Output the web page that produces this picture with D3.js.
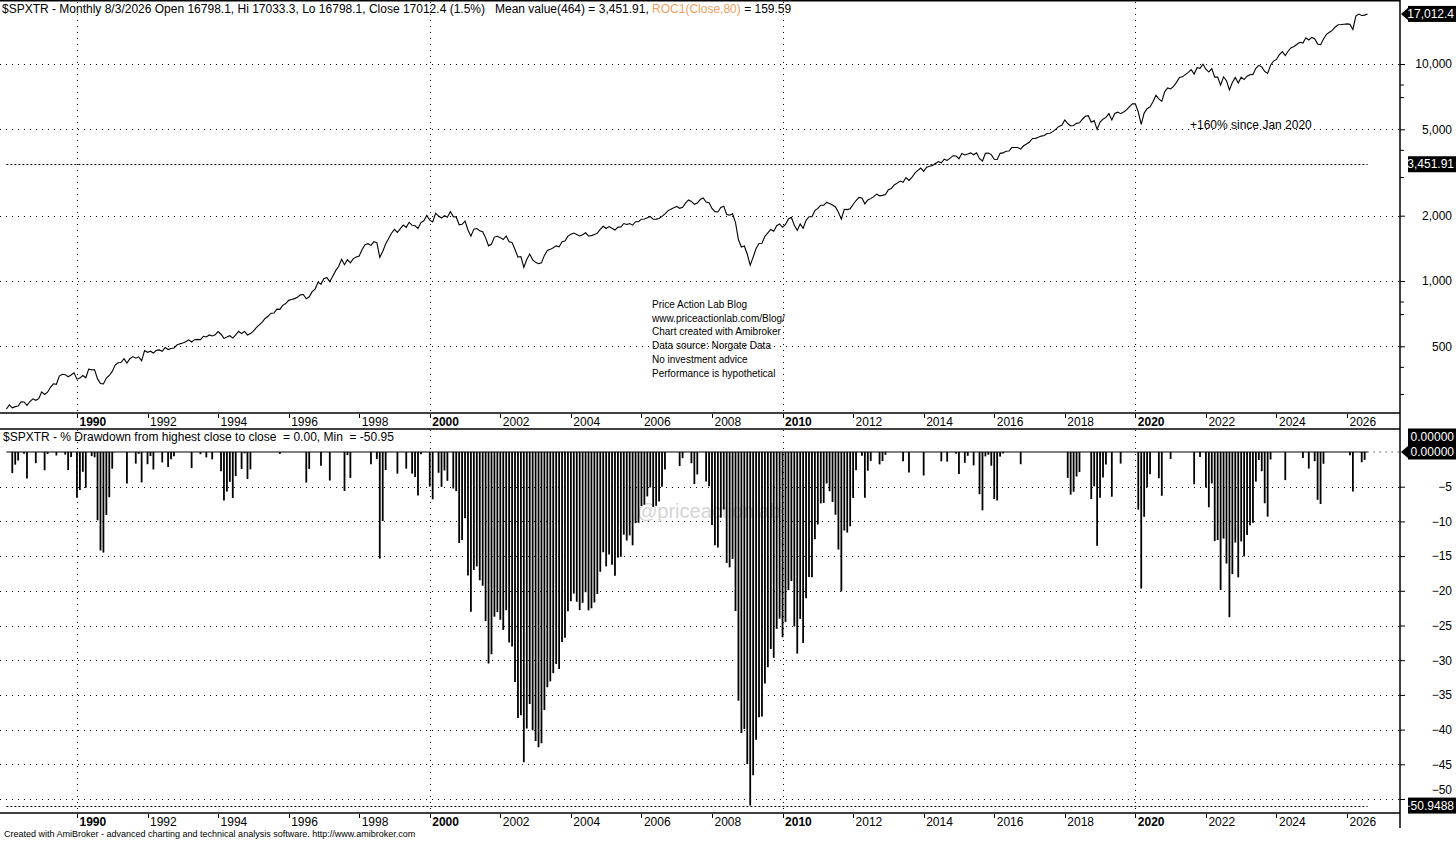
<!DOCTYPE html>
<html>
<head>
<meta charset="utf-8">
<script src="https://cdn.jsdelivr.net/npm/d3@7"></script>
<style>
  body { margin: 0; background: #fff; }
  text { font-family: "Liberation Sans", Arial, sans-serif; }
</style>
</head>
<body>
<div id="chart"></div>
<script>
// monthly closes of $SPXTR, one row per year, Jan 1988 .. Aug 2026
var startYear = 1988;

var closes80s = [
  [257.1, 268.6, 260.4, 263.7, 265.3, 277.6, 276.9, 267.0, 278.4, 286.5, 281.9, 286.9], // 1988
  [308.2, 300.1, 307.3, 323.6, 335.9, 334.2, 364.8, 371.5, 370.1, 361.8, 368.8, 377.8]  // 1989
];
var closes90s = [
  [352.9, 357.1, 367.0, 358.3, 392.5, 390.2, 389.5, 353.9, 336.8, 335.6, 356.9, 366.9], // 1990
  [383.1, 409.9, 420.1, 421.3, 438.6, 418.7, 438.5, 448.3, 440.8, 447.1, 428.6, 477.6],
  [469.2, 474.8, 465.6, 479.7, 481.3, 474.1, 493.9, 483.2, 488.7, 490.9, 507.0, 513.3],
  [518.1, 524.7, 535.8, 523.4, 536.5, 538.2, 536.5, 556.3, 552.0, 564.0, 558.0, 564.9],
  [584.6, 568.4, 543.7, 551.3, 559.5, 545.8, 564.3, 586.9, 572.5, 585.8, 564.0, 572.2],
  [587.4, 609.9, 627.9, 646.8, 671.7, 687.5, 710.8, 712.1, 742.2, 740.1, 772.0, 787.2],
  [814.3, 821.5, 829.5, 842.1, 863.0, 866.5, 828.3, 845.4, 892.8, 917.8, 986.9, 967.4],
  [1028.2, 1035.8, 993.2, 1052.7, 1116.0, 1166.2, 1259.1, 1188.5, 1253.5, 1212.1, 1267.9, 1289.7],
  [1304.5, 1398.3, 1470.1, 1485.3, 1459.3, 1518.8, 1503.1, 1285.6, 1367.7, 1479.4, 1568.9, 1659.5],
  [1729.2, 1675.1, 1741.7, 1809.6, 1766.2, 1864.1, 1806.1, 1796.7, 1747.1, 1858.1, 1895.4, 2007.0]
];
var closes00s = [
  [1906.7, 1870.2, 2053.1, 1991.7, 1950.0, 1998.6, 1967.8, 2089.4, 1979.5, 1971.6, 1815.5, 1824.6], // 2000
  [1889.9, 1717.3, 1608.8, 1734.3, 1745.0, 1703.2, 1686.6, 1580.2, 1452.6, 1480.5, 1593.5, 1607.3],
  [1584.4, 1553.6, 1613.0, 1516.0, 1504.2, 1397.1, 1288.5, 1296.5, 1155.5, 1257.1, 1330.6, 1252.0],
  [1219.5, 1200.5, 1212.3, 1312.4, 1381.2, 1398.9, 1423.7, 1451.2, 1436.0, 1517.0, 1530.1, 1610.1],
  [1640.4, 1663.0, 1638.4, 1613.3, 1635.4, 1667.3, 1612.7, 1618.8, 1636.5, 1662.0, 1728.8, 1787.6],
  [1745.1, 1781.0, 1749.6, 1717.1, 1771.4, 1773.9, 1840.5, 1822.8, 1838.3, 1808.5, 1875.1, 1876.2],
  [1927.0, 1931.0, 1955.6, 1982.6, 1924.3, 1927.5, 1940.4, 1984.8, 2036.9, 2104.4, 2142.4, 2172.8],
  [2207.0, 2162.3, 2187.4, 2285.8, 2364.0, 2325.7, 2254.9, 2287.6, 2373.3, 2412.4, 2309.8, 2293.6],
  [2158.3, 2088.0, 2080.3, 2184.1, 2212.5, 2026.9, 2011.4, 2040.6, 1859.5, 1547.9, 1435.2, 1449.7],
  [1328.2, 1183.3, 1288.4, 1412.2, 1490.2, 1493.4, 1607.4, 1664.6, 1727.6, 1696.8, 1797.7, 1833.2]
];
var closes10s = [
  [1768.4, 1821.9, 1932.2, 1964.0, 1806.0, 1711.5, 1832.3, 1748.2, 1904.4, 1977.8, 1976.6, 2109.1], // 2010
  [2160.7, 2233.7, 2235.4, 2303.1, 2276.1, 2238.5, 2194.3, 2073.3, 1927.9, 2139.4, 2132.3, 2154.3],
  [2252.8, 2349.0, 2427.5, 2414.2, 2267.5, 2362.0, 2396.6, 2448.9, 2513.3, 2468.5, 2480.4, 2503.0],
  [2634.1, 2668.1, 2769.3, 2824.5, 2888.5, 2850.3, 2996.9, 2908.3, 3000.4, 3139.8, 3233.8, 3316.0],
  [3203.5, 3347.4, 3376.4, 3403.0, 3480.5, 3552.9, 3505.4, 3643.5, 3593.0, 3682.5, 3779.3, 3769.8],
  [3659.4, 3867.4, 3807.0, 3846.3, 3893.8, 3818.8, 3901.2, 3663.8, 3573.2, 3876.6, 3885.6, 3824.2],
  [3637.0, 3628.7, 3875.4, 3893.1, 3960.1, 3971.0, 4120.1, 4122.6, 4125.1, 4052.4, 4198.7, 4282.9],
  [4367.0, 4537.0, 4543.0, 4592.0, 4653.1, 4683.2, 4782.0, 4792.5, 4893.3, 5010.2, 5159.6, 5218.9],
  [5521.7, 5315.9, 5182.2, 5205.3, 5326.9, 5361.9, 5564.7, 5743.0, 5777.8, 5386.1, 5491.6, 4996.2],
  [5397.1, 5565.6, 5673.9, 5905.5, 5525.0, 5914.4, 6000.7, 5900.6, 6010.9, 6142.5, 6360.8, 6553.6]
];
var closes20s = [
  [6551.0, 6008.9, 5264.8, 5941.4, 6219.5, 6343.2, 6702.5, 7182.6, 6911.0, 6729.6, 7464.2, 7752.5], // 2020
  [7675.2, 7884.6, 8229.1, 8670.5, 8728.2, 8932.4, 9146.1, 9422.1, 8984.7, 9617.0, 9547.8, 9975.6],
  [9464.6, 9181.0, 9522.9, 8697.7, 8710.6, 7991.0, 8731.4, 8372.7, 7601.5, 8220.2, 8674.3, 8174.3],
  [8690.6, 8475.0, 8783.7, 8924.0, 8958.2, 9550.5, 9860.8, 9699.2, 9238.6, 9047.3, 9867.4, 10317.2],
  [10493.3, 11048.7, 11404.6, 10942.6, 11481.2, 11892.9, 12041.4, 12330.5, 12594.0, 12483.5, 13213.9, 12898.4],
  [13261.4, 13086.9, 12347.8, 12267.0, 13036.0, 13697.4, 14009.4, 14291.9, 14813.5, 15166.1, 15202.0, 15255.0],
  [15300.0, 15230.0, 14430.0, 16620.0, 16990.0, 16740.0, 16798.1, 17012.4] // 2026
];

var yearTicks = [1990, 1992, 1994, 1996, 1998, 2000, 2002, 2004, 2006, 2008, 2010,
                 2012, 2014, 2016, 2018, 2020, 2022, 2024, 2026];
var priceTicks = [500, 1000, 2000, 5000, 10000];
var priceMinorTicks = [300, 400, 700, 800, 3000, 4000, 7000, 8000];
var ddTicks = [-5, -10, -15, -20, -25, -30, -35, -40, -45, -50];

var meanValue = 3451.91;
var minDrawdown = -50.9488;
var lastClose = 17012.4;

var headerMain = "$SPXTR - Monthly 8/3/2026 Open 16798.1, Hi 17033.3, Lo 16798.1, Close 17012.4 (1.5%)   Mean value(464) = 3,451.91, ";
var headerRoc = "ROC1(Close,80)";
var headerRocValue = " = 159.59";
var ddTitle = "$SPXTR - % Drawdown from highest close to close  = 0.00, Min  = -50.95";
var noteLines = ["Price Action Lab Blog", "www.priceactionlab.com/Blog/", "Chart created with Amibroker",
                 "Data source: Norgate Data", "No investment advice", "Performance is hypothetical"];
var footer = "Created with AmiBroker - advanced charting and technical analysis software. http://www.amibroker.com";

var closes = [].concat(closes80s, closes90s, closes00s, closes10s, closes20s).flat();

// % drawdown from the highest close so far
var peak = 0;
var drawdown = closes.map(function (c) {
    peak = Math.max(peak, c);
    return (c / peak - 1) * 100;
});

var width = 1456, height = 841, axisX = 1400;

var svg = d3.select("#chart").append("svg")
    .attr("width", width)
    .attr("height", height)
    .style("display", "block");

svg.append("rect").attr("width", width).attr("height", height).attr("fill", "#fff");

var x = d3.scaleLinear().domain([0, closes.length - 1]).range([6.4, 1367.6]);
var yPrice = d3.scaleLog().domain([1000, 10000]).range([281, 64]);
var yDD = d3.scaleLinear().domain([0, -50]).range([452, 799]);

function monthIndex(year) { return (year - startYear) * 12; }

var grid = svg.append("g").attr("stroke", "#000").attr("stroke-width", 1).attr("stroke-dasharray", "1,5");

// decade gridlines
[1990, 2000, 2010, 2020].forEach(function (yr) {
    var gx = Math.round(x(monthIndex(yr))) + 0.5;
    grid.append("line").attr("x1", gx).attr("x2", gx).attr("y1", 2).attr("y2", 413);
    grid.append("line").attr("x1", gx).attr("x2", gx).attr("y1", 430).attr("y2", 813);
});

// horizontal gridlines
priceTicks.forEach(function (v) {
    var gy = Math.round(yPrice(v)) + 0.5;
    grid.append("line").attr("x1", 0).attr("x2", axisX).attr("y1", gy).attr("y2", gy);
});
ddTicks.forEach(function (v) {
    var gy = Math.round(yDD(v)) + 0.5;
    grid.append("line").attr("x1", 0).attr("x2", axisX).attr("y1", gy).attr("y2", gy);
});
grid.append("line").attr("x1", x(closes.length - 1)).attr("x2", axisX)
    .attr("y1", yDD(0)).attr("y2", yDD(0));

// notes in the price pane
var notes = svg.append("g").attr("font-size", "10px").attr("fill", "#000");
notes.selectAll("text")
    .data(noteLines)
    .join("text")
    .attr("x", 652)
    .attr("y", function (d, i) { return 308 + i * 13.7; })
    .text(function (d) { return d; });

svg.append("text")
    .attr("x", 1190).attr("y", 129)
    .attr("font-size", "12px")
    .text("+160% since Jan 2020");

// mean value line
svg.append("line")
    .attr("x1", x(0)).attr("x2", x(closes.length - 1))
    .attr("y1", Math.round(yPrice(meanValue)) + 0.5).attr("y2", Math.round(yPrice(meanValue)) + 0.5)
    .attr("stroke", "#000").attr("stroke-dasharray", "2,2");

// price line
var line = d3.line()
    .x(function (d, i) { return x(i); })
    .y(function (d) { return yPrice(d); });

svg.append("path")
    .datum(closes)
    .attr("d", line)
    .attr("fill", "none")
    .attr("stroke", "#000")
    .attr("stroke-width", 1.1);

// watermark behind drawdown bars
svg.append("text")
    .attr("x", 637).attr("y", 518)
    .attr("font-size", "20px")
    .attr("fill", "#d4d4d4")
    .text("@priceactionlab");

// drawdown bars
svg.append("g")
    .selectAll("line")
    .data(drawdown)
    .join("line")
    .attr("x1", function (d, i) { return x(i); })
    .attr("x2", function (d, i) { return x(i); })
    .attr("y1", yDD(0))
    .attr("y2", function (d) { return yDD(d); })
    .attr("stroke", "#000")
    .attr("stroke-width", 1.8);

svg.append("line")
    .attr("x1", x(0)).attr("x2", x(closes.length - 1))
    .attr("y1", yDD(0)).attr("y2", yDD(0))
    .attr("stroke", "#000").attr("stroke-width", 1.2);

svg.append("line")
    .attr("x1", x(0)).attr("x2", x(closes.length - 1))
    .attr("y1", Math.round(yDD(minDrawdown)) + 0.5).attr("y2", Math.round(yDD(minDrawdown)) + 0.5)
    .attr("stroke", "#000").attr("stroke-dasharray", "2,2");

// frame lines
var frame = svg.append("g").attr("stroke", "#000").attr("stroke-width", 1.5);
frame.append("line").attr("x1", 0).attr("x2", axisX).attr("y1", 0.75).attr("y2", 0.75);
[413, 429, 813].forEach(function (ly) {
    frame.append("line").attr("x1", 0).attr("x2", axisX).attr("y1", ly).attr("y2", ly);
});
frame.append("line").attr("x1", axisX).attr("x2", axisX).attr("y1", 0).attr("y2", 828);

// year axes
function yearAxis(top) {
    var g = svg.append("g");
    g.selectAll("line")
        .data(yearTicks)
        .join("line")
        .attr("x1", function (d) { return Math.round(x(monthIndex(d))) + 0.5; })
        .attr("x2", function (d) { return Math.round(x(monthIndex(d))) + 0.5; })
        .attr("y1", top + 1).attr("y2", top + 5)
        .attr("stroke", "#000");
    g.selectAll("text")
        .data(yearTicks)
        .join("text")
        .attr("x", function (d) { return x(monthIndex(d)) + 2.5; })
        .attr("y", top + 12.5)
        .attr("font-size", "12px")
        .attr("font-weight", function (d) { return d % 10 === 0 ? "bold" : "normal"; })
        .text(function (d) { return d; });
}
yearAxis(413);
yearAxis(813);

// right value axes
var priceAxis = svg.append("g")
    .attr("transform", "translate(" + axisX + ",0)")
    .call(d3.axisRight(yPrice).tickValues(priceTicks).tickFormat(d3.format(",")).tickSize(5));
priceAxis.select(".domain").remove();
priceAxis.selectAll("text").attr("x", 52).attr("text-anchor", "end")
    .attr("font-size", "12px").attr("font-family", null);

svg.append("g")
    .selectAll("line")
    .data(priceMinorTicks)
    .join("line")
    .attr("x1", axisX).attr("x2", axisX + 4)
    .attr("y1", function (d) { return yPrice(d); })
    .attr("y2", function (d) { return yPrice(d); })
    .attr("stroke", "#000");

var ddAxis = svg.append("g")
    .attr("transform", "translate(" + axisX + ",0)")
    .call(d3.axisRight(yDD).tickValues(ddTicks).tickFormat(d3.format("d")).tickSize(5));
ddAxis.select(".domain").remove();
ddAxis.selectAll("text").attr("x", 52).attr("text-anchor", "end")
    .attr("font-size", "12px").attr("font-family", null);
// the -50 label sits just above the min tag, as in AmiBroker
ddAxis.selectAll(".tick").filter(function (d) { return d === -50; })
    .select("text").attr("y", -9);

// value tags
function valueTag(cy, texts, arrow, arrowY) {
    var h = texts.length * 15 + 1;
    var g = svg.append("g");
    g.append("rect")
        .attr("x", 1408).attr("y", cy - h / 2)
        .attr("width", 48).attr("height", h)
        .attr("fill", "#000");
    if (arrow) {
        g.append("path")
            .attr("d", "M" + (axisX + 1) + "," + arrowY + "L1409," + (arrowY - 7) + "L1409," + (arrowY + 7) + "Z")
            .attr("fill", "#000");
    }
    g.selectAll("text")
        .data(texts)
        .join("text")
        .attr("x", 1454)
        .attr("y", function (d, i) { return cy - h / 2 + 12 + i * 15; })
        .attr("text-anchor", "end")
        .attr("font-size", "12px")
        .attr("fill", "#fff")
        .text(function (d) { return d; });
}
valueTag(yPrice(lastClose), [d3.format(",.1f")(lastClose)], true, yPrice(lastClose));
valueTag(yPrice(meanValue), [d3.format(",.2f")(meanValue)], false);
valueTag(444, ["0.00000", "0.00000"], true, yDD(0));
valueTag(yDD(minDrawdown), [d3.format(".4f")(minDrawdown)], false);

// titles
var header = svg.append("text").attr("x", 2).attr("y", 13).attr("font-size", "12px");
header.append("tspan").text(headerMain);
header.append("tspan").attr("fill", "#f0a060").text(headerRoc);
header.append("tspan").text(headerRocValue);
header.attr("xml:space", "preserve");

svg.append("text")
    .attr("x", 3).attr("y", 441)
    .attr("font-size", "12px")
    .attr("xml:space", "preserve")
    .text(ddTitle);

svg.append("text")
    .attr("x", 4).attr("y", 837)
    .attr("font-size", "9px")
    .text(footer);
</script>
</body>
</html>
